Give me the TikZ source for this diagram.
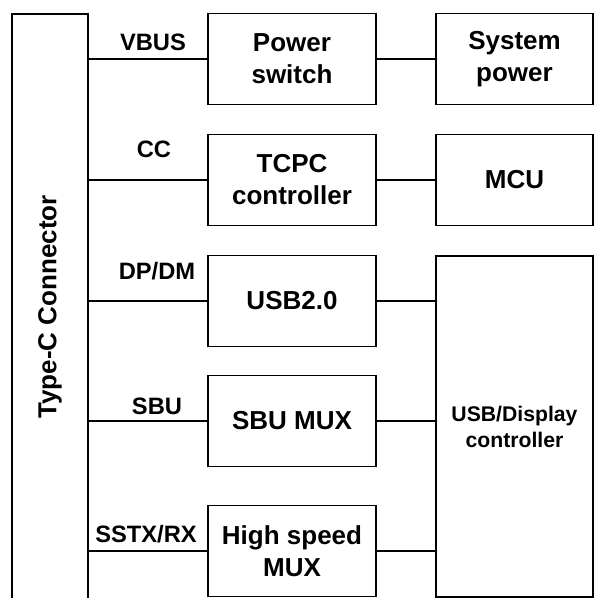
\documentclass[tikz,border=0pt]{standalone}
\usepackage{fontspec}
\setmainfont{Liberation Sans}
\usepackage{tikz}
\usetikzlibrary{arrows,shapes}

\begin{document}
\begin{tikzpicture}[blk/.style={draw,line width=1.8bp,rectangle,align=center,inner sep=0pt,font=\fontsize{26bp}{32bp}\selectfont\bfseries},
  sig/.style={anchor=base,inner sep=0pt,font=\fontsize{23.7bp}{28bp}\selectfont\bfseries}]
\useasboundingbox (0bp,0bp) rectangle (594bp,-598bp);
\node (CON) at (50bp,-307bp)[blk,minimum width=76bp,minimum height=586bp] {\rotatebox{90}{Type-C Connector}};
\node (PS) at (292bp,-59bp)[blk,minimum width=168bp,minimum height=91bp] {Power\\switch};
\node (TC) at (292bp,-180bp)[blk,minimum width=168bp,minimum height=91bp] {TCPC\\controller};
\node (U2) at (292bp,-301bp)[blk,minimum width=168bp,minimum height=91bp] {USB2.0};
\node (SM) at (292bp,-421bp)[blk,minimum width=168bp,minimum height=91bp] {SBU MUX};
\node (HM) at (292bp,-551bp)[blk,minimum width=168bp,minimum height=91bp] {High speed\\MUX};
\node (SP) at (514.5bp,-59bp)[blk,minimum width=157bp,minimum height=91bp] {System\\power};
\node (MCU) at (514.5bp,-180bp)[blk,minimum width=157bp,minimum height=91bp] {MCU};
\node (UD) at (514.5bp,-426.5bp)[blk,minimum width=157bp,minimum height=341bp,font=\fontsize{21.2bp}{26bp}\selectfont\bfseries] {USB/Display\\controller};
\draw [line width=1.8bp] (PS.west -| CON.east) -- (PS.west);
\draw [line width=1.8bp] (TC.west -| CON.east) -- (TC.west);
\draw [line width=1.8bp] (U2.west -| CON.east) -- (U2.west);
\draw [line width=1.8bp] (SM.west -| CON.east) -- (SM.west);
\draw [line width=1.8bp] (HM.west -| CON.east) -- (HM.west);
\draw [line width=1.8bp] (PS) -- (SP);
\draw [line width=1.8bp] (TC) -- (MCU);
\draw [line width=1.8bp] (U2.east) -- (U2.east -| UD.west);
\draw [line width=1.8bp] (SM.east) -- (SM.east -| UD.west);
\draw [line width=1.8bp] (HM.east) -- (HM.east -| UD.west);
\node (VB) at (153bp,-50bp)[sig] {VBUS};
\node (CC) at (154bp,-157bp)[sig] {CC};
\node (DD) at (157bp,-279bp)[sig] {DP/DM};
\node (SB) at (157bp,-414bp)[sig] {SBU};
\node (SS) at (146bp,-542bp)[sig] {SSTX/RX};
\end{tikzpicture}
\end{document}
